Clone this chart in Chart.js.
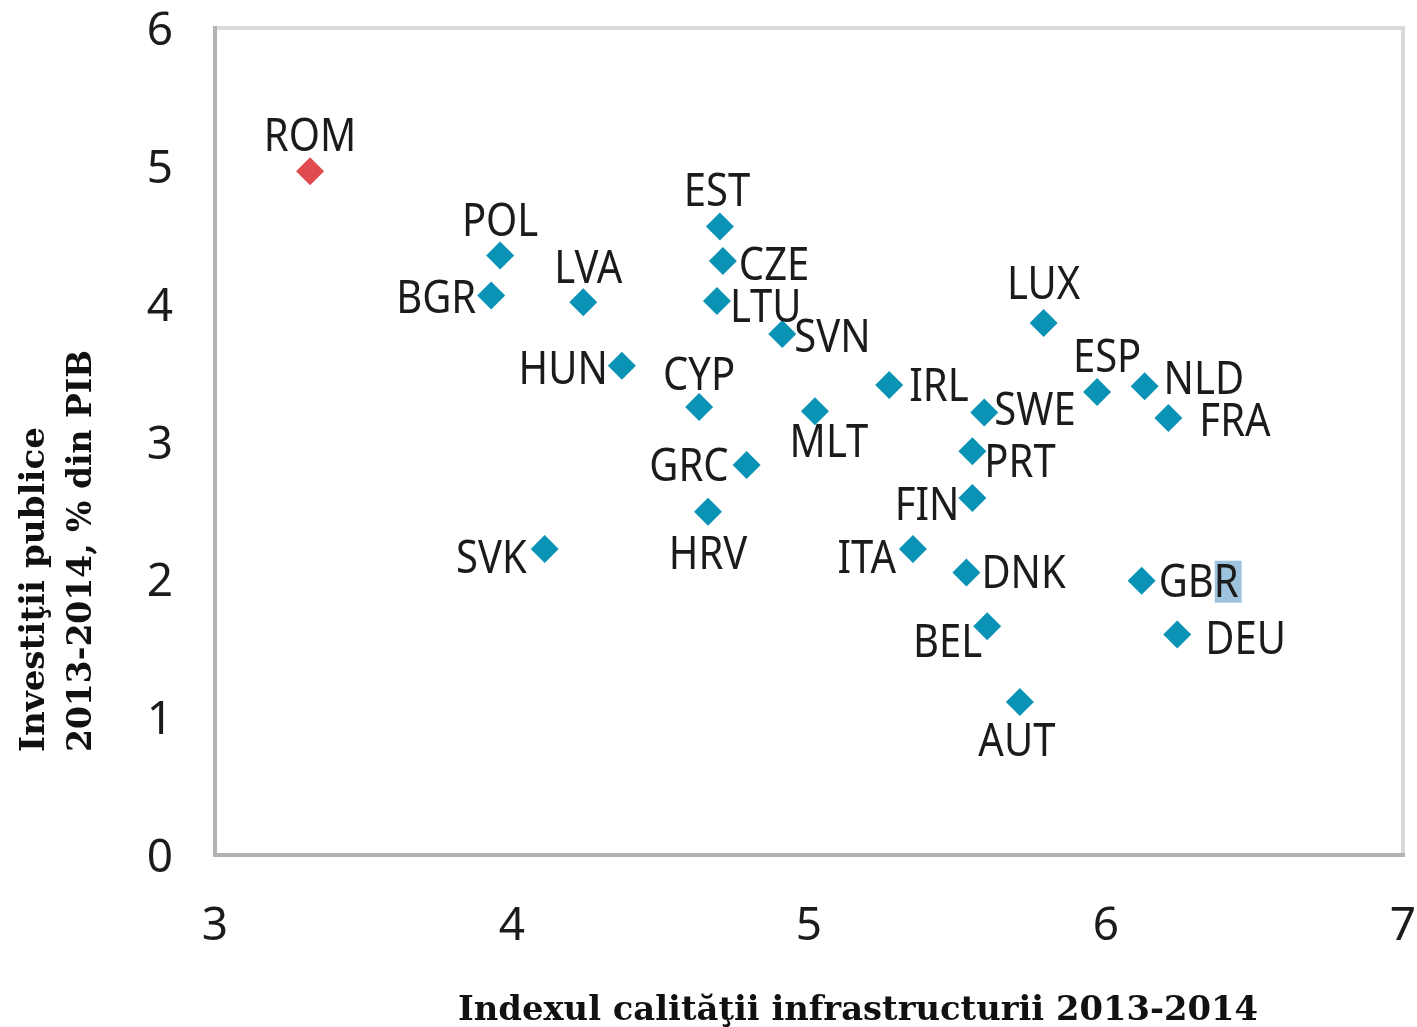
<!DOCTYPE html>
<html><head><meta charset="utf-8">
<script src="https://cdn.jsdelivr.net/npm/chart.js@4/dist/chart.umd.min.js"></script>
<style>html,body{margin:0;padding:0;background:#fff;}#wrap{width:1417px;height:1027px;position:relative;}canvas{display:block;}</style>
</head><body><div id="wrap"><canvas id="c" width="1417" height="1027"></canvas></div>
<script>
// ---- data ----
const countries = ['ROM','POL','BGR','LVA','HUN','EST','CZE','LTU','SVN','CYP','MLT','GRC','HRV','SVK','IRL','LUX','ESP','NLD','FRA','SWE','PRT','FIN','ITA','DNK','GBR','DEU','BEL','AUT'];
const infraIndex = [3.32,3.96,3.93,4.24,4.37,4.70,4.71,4.69,4.91,4.63,5.02,4.79,4.66,4.11,5.27,5.79,5.97,6.13,6.21,5.59,5.55,5.55,5.35,5.53,6.12,6.24,5.60,5.71];
const publicInvest = [4.96,4.35,4.06,4.01,3.55,4.56,4.31,4.02,3.78,3.25,3.22,2.83,2.49,2.22,3.41,3.86,3.36,3.40,3.17,3.21,2.93,2.59,2.22,2.05,1.99,1.60,1.66,1.11];
const highlighted = 'ROM';
const xTickValues = [3,4,5,6,7];
const yTickValues = [0,1,2,3,4,5,6];
const xTitle = 'Indexul calităţii infrastructurii 2013-2014';
const yTitleLines = ['Investiţii publice', '2013-2014, % din PIB'];

// ---- label placement (kept separate from data) ----
const labelSide = ['top','top','left','top','left','top','right','right','right','top','bottom','left','bottom','left','right','top','top','right','right','right','right','left','left','right','right','right','left','bottom'];
const labelNudge = [[0,0],[0,1],[0,2],[5,1],[1,2],[-3,0],[1,3],[-2,5],[-3,2],[0,3],[14,-6],[-3,0],[0,5],[-3,8],[5,0],[0,-4],[10,0],[4,-8],[16,2],[-5,-4],[-3,10],[2,6],[-2,8],[0,0],[2,0],[13,4],[10,15],[-3,2]];

const TEAL = '#0b93b6', RED = '#e04b4f', TEXT = '#1b1b1b';
const LABEL_FONT_PX = 40, LABEL_SY = 1.12;

const decor = {
  id: 'decor',
  beforeDatasetsDraw(chart) {
    const {ctx, chartArea: a} = chart;
    ctx.save();
    ctx.lineWidth = 4;
    ctx.strokeStyle = '#d9d9d9';
    ctx.beginPath();
    ctx.moveTo(a.left, a.top); ctx.lineTo(a.right, a.top); ctx.lineTo(a.right, a.bottom);
    ctx.stroke();
    ctx.strokeStyle = '#b3b3b3';
    ctx.beginPath();
    ctx.moveTo(a.left, a.top - 2); ctx.lineTo(a.left, a.bottom); ctx.lineTo(a.right + 2, a.bottom);
    ctx.stroke();
    ctx.restore();
  },
  afterDatasetsDraw(chart) {
    const ctx = chart.ctx;
    const meta = chart.getDatasetMeta(0);
    ctx.save();
    ctx.font = LABEL_FONT_PX + 'px "Noto Sans"';
    const capH = 0.714 * LABEL_FONT_PX * LABEL_SY;
    meta.data.forEach((pt, i) => {
      const text = countries[i];
      const side = labelSide[i];
      const [dx, dy] = labelNudge[i];
      let x = pt.x, base = pt.y, align = 'center';
      if (side === 'top') { base = pt.y - 20; }
      else if (side === 'bottom') { base = pt.y + 20 + capH; }
      else if (side === 'right') { x = pt.x + 15; base = pt.y + capH / 2; align = 'left'; }
      else { x = pt.x - 15; base = pt.y + capH / 2; align = 'right'; }
      x += dx; base += dy;
      if (text === 'GBR') {
        const wAll = ctx.measureText(text).width;
        const wPre = ctx.measureText('GB').width;
        ctx.fillStyle = '#9dc3df';
        ctx.fillRect(x + wPre + 1, base - capH - 4, wAll - wPre + 2, capH + 10);
      }
      ctx.save();
      ctx.translate(x, base);
      ctx.scale(1, LABEL_SY);
      ctx.textAlign = align;
      ctx.textBaseline = 'alphabetic';
      ctx.fillStyle = TEXT;
      ctx.fillText(text, 0, 0);
      ctx.restore();
    });
    ctx.restore();

    // axis titles
    ctx.save();
    ctx.fillStyle = '#111';
    ctx.font = 'bold 34px "DejaVu Serif"';
    ctx.textBaseline = 'alphabetic';
    ctx.textAlign = 'left';
    // x title
    let w = ctx.measureText(xTitle).width;
    ctx.save();
    ctx.translate(458, 1020);
    ctx.scale(800 / w, 1);
    ctx.fillText(xTitle, 0, 0);
    ctx.restore();
    // y title lines
    const yLens = [325, 402];
    const yBase = [44, 91];
    yTitleLines.forEach((line, k) => {
      const lw = ctx.measureText(line).width;
      ctx.save();
      ctx.translate(yBase[k], 752);
      ctx.rotate(-Math.PI / 2);
      ctx.scale(yLens[k] / lw, 1);
      ctx.fillText(line, 0, 0);
      ctx.restore();
    });
    ctx.restore();
  }
};

const points = countries.map((c, i) => ({x: infraIndex[i], y: publicInvest[i]}));

new Chart(document.getElementById('c'), {
  type: 'scatter',
  data: {
    datasets: [{
      data: points,
      pointStyle: 'rectRot',
      pointRadius: 14,
      pointHoverRadius: 14,
      borderWidth: 0,
      backgroundColor: countries.map(c => c === highlighted ? RED : TEAL),
      pointBackgroundColor: countries.map(c => c === highlighted ? RED : TEAL)
    }]
  },
  options: {
    responsive: false,
    animation: false,
    devicePixelRatio: 1,
    layout: {padding: {top: 28, right: 13, bottom: 0, left: 0}},
    plugins: {legend: {display: false}, tooltip: {enabled: false}},
    events: [],
    scales: {
      x: {
        type: 'linear', min: 3, max: 7,
        afterBuildTicks(s) { s.ticks = xTickValues.map(v => ({value: v})); },
        ticks: {color: TEXT, padding: 44, font: {family: 'Noto Sans', size: 46}, maxRotation: 0},
        grid: {display: false, drawTicks: false},
        border: {display: false},
        afterFit(s) { s.height = 172; s.paddingLeft = 0; s.paddingRight = 0; }
      },
      y: {
        type: 'linear', min: 0, max: 6,
        afterBuildTicks(s) { s.ticks = yTickValues.map(v => ({value: v})); },
        ticks: {color: TEXT, padding: 42, labelOffset: 4, font: {family: 'Noto Sans', size: 46}},
        grid: {display: false, drawTicks: false},
        border: {display: false},
        afterFit(s) { s.width = 215; s.paddingTop = 0; s.paddingBottom = 0; }
      }
    }
  },
  plugins: [decor]
});
</script></body></html>
